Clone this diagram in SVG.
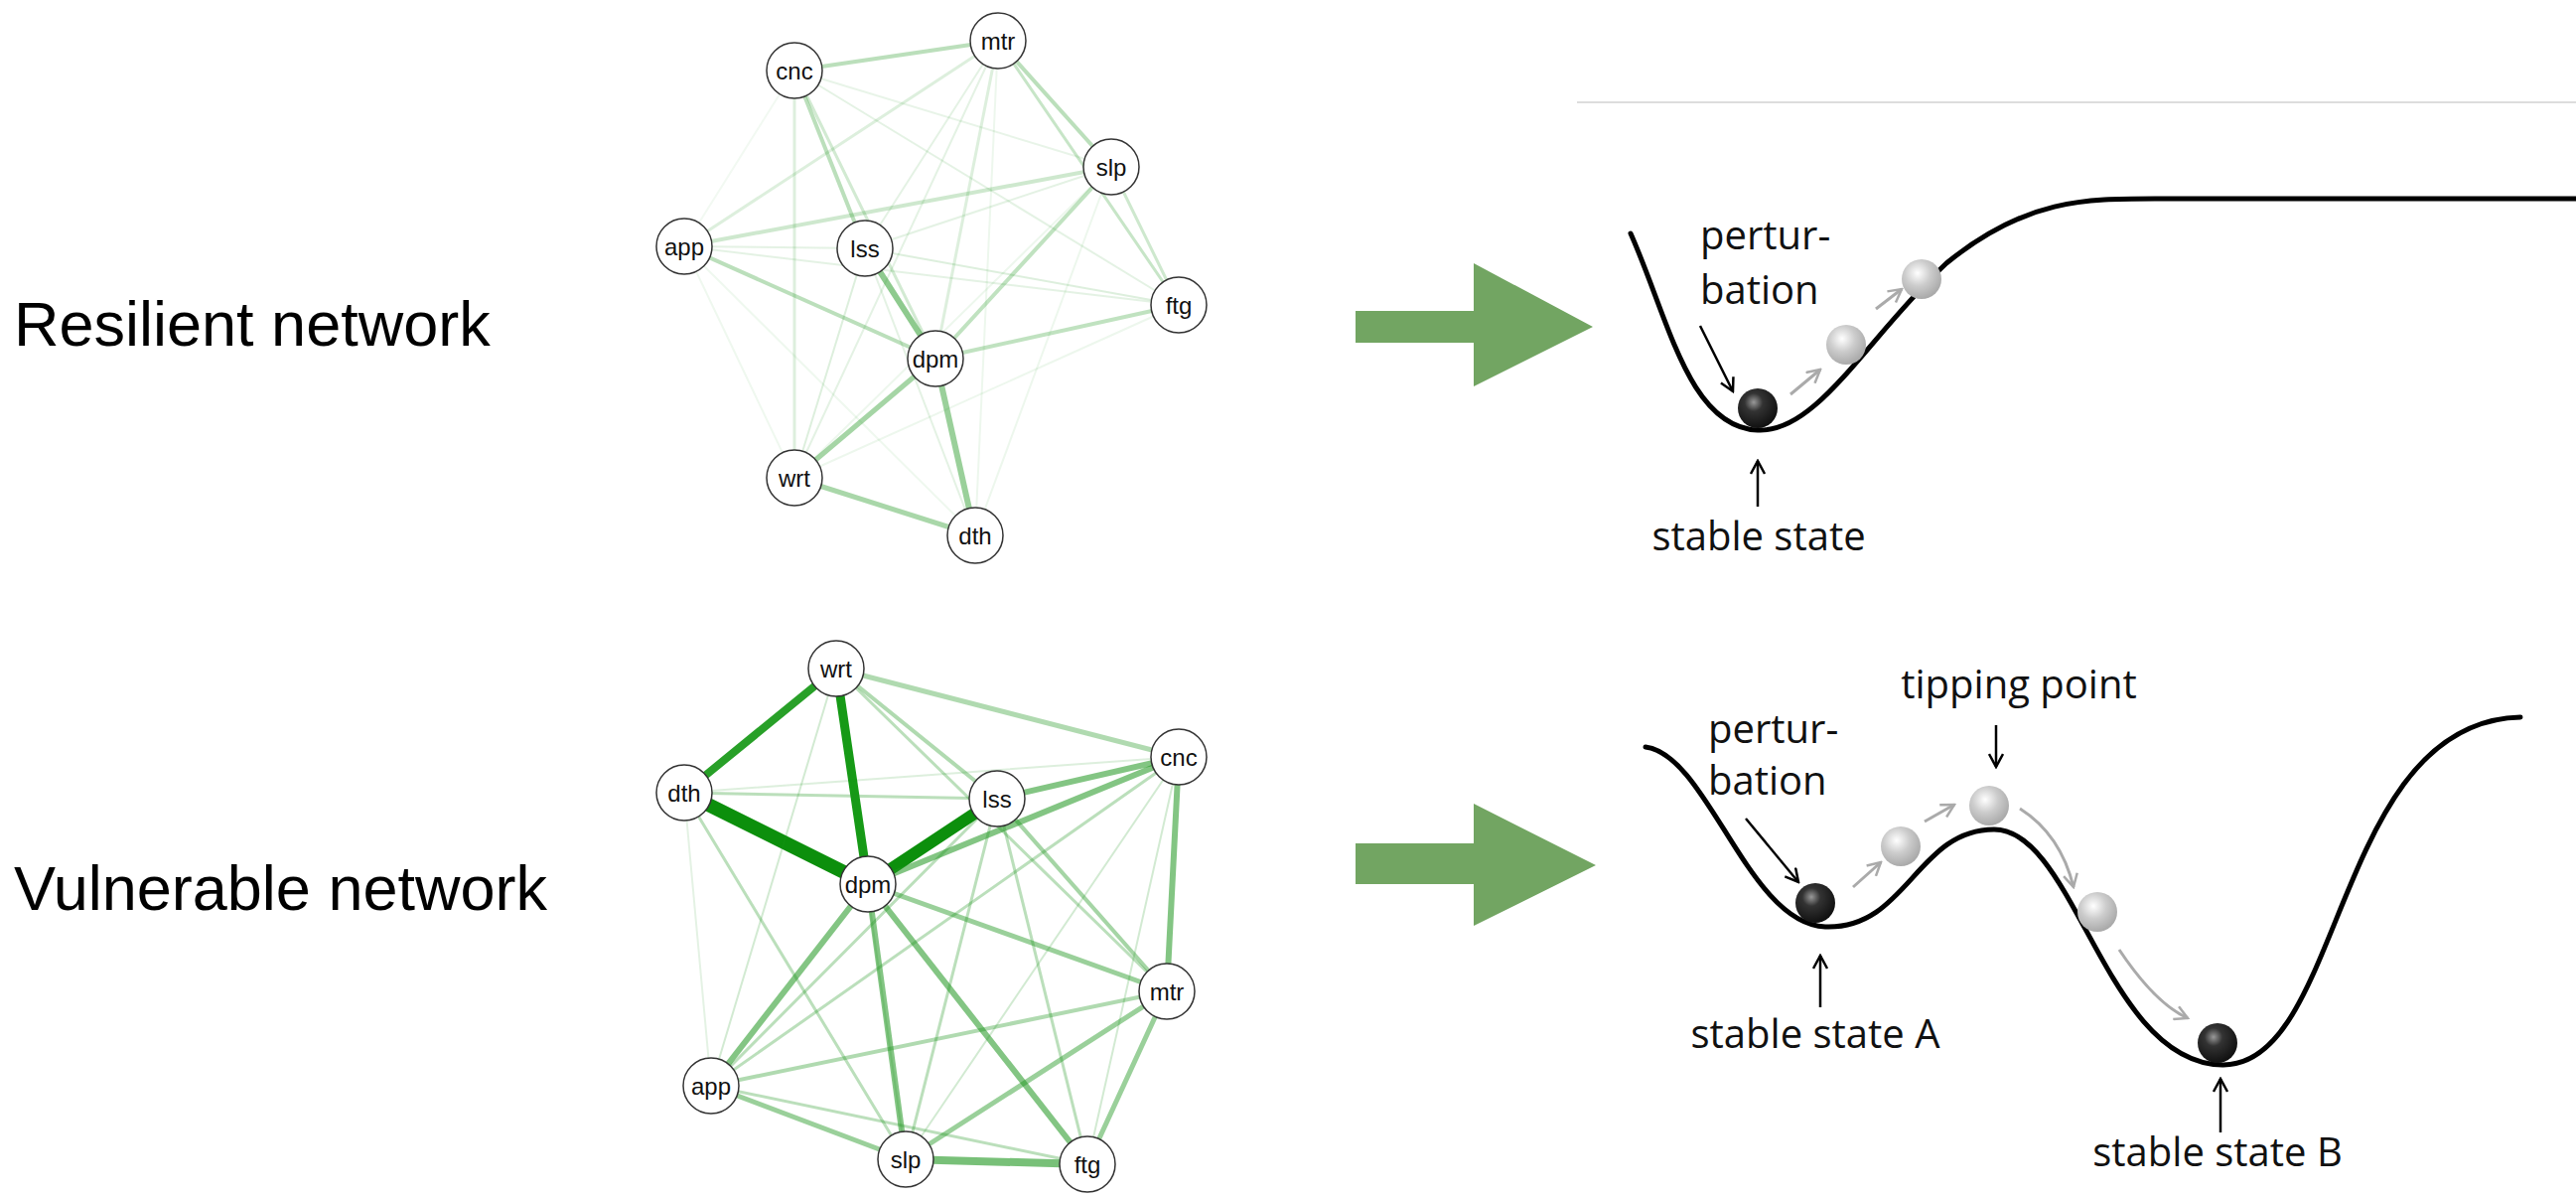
<svg xmlns="http://www.w3.org/2000/svg" width="2594" height="1206" viewBox="0 0 2594 1206">
<style>
.lbl{font-family:"Liberation Sans",Arial,sans-serif;font-size:63px;fill:#000}
.nt{font-family:"Liberation Sans",Arial,sans-serif;font-size:24px;fill:#111;text-anchor:middle;dominant-baseline:central}
.nd{fill:#fff;stroke:#333;stroke-width:1.5}
.e{stroke:#1e961e;fill:none;stroke-linecap:round}
.ann{font-family:"Open Sans","DejaVu Sans",sans-serif;font-size:40px;fill:#111}
.curve{fill:none;stroke:#000;stroke-width:5;stroke-linecap:round}
.ar{stroke:#000;stroke-width:2.5;fill:none}
.ga{stroke:#aaa;stroke-width:3;fill:none}
</style>
<defs>
<radialGradient id="dk" cx="0.4" cy="0.35" r="0.65"><stop offset="0" stop-color="#999"/><stop offset="0.35" stop-color="#333"/><stop offset="1" stop-color="#111"/></radialGradient>
<radialGradient id="lt" cx="0.4" cy="0.35" r="0.65"><stop offset="0" stop-color="#fff"/><stop offset="0.5" stop-color="#ccc"/><stop offset="1" stop-color="#aaa"/></radialGradient>
<marker id="mb" markerWidth="16" markerHeight="16" refX="14" refY="8" orient="auto" markerUnits="userSpaceOnUse"><path d="M1,1 L14,8 L1,15" fill="none" stroke="#000" stroke-width="2.5"/></marker>
<marker id="mg" markerWidth="16" markerHeight="16" refX="14" refY="8" orient="auto" markerUnits="userSpaceOnUse"><path d="M1,1 L14,8 L1,15" fill="none" stroke="#aaa" stroke-width="2.5"/></marker>
</defs>
<rect width="2594" height="1206" fill="#fff"/>
<line x1="1588" y1="103" x2="2594" y2="103" stroke="#ddd" stroke-width="2"/>
<text class="lbl" x="14" y="348">Resilient network</text>
<text class="lbl" x="14" y="916">Vulnerable network</text>

<g id="connectors">
<g class="e">
<line x1="800" y1="71" x2="1005" y2="41" stroke-opacity="0.3" stroke-width="4"/>
<line x1="800" y1="71" x2="871" y2="250" stroke-opacity="0.3" stroke-width="4"/>
<line x1="800" y1="71" x2="942" y2="361" stroke-opacity="0.2" stroke-width="3"/>
<line x1="800" y1="71" x2="800" y2="481" stroke-opacity="0.15" stroke-width="3"/>
<line x1="800" y1="71" x2="1187" y2="307" stroke-opacity="0.12" stroke-width="2"/>
<line x1="800" y1="71" x2="1119" y2="168" stroke-opacity="0.1" stroke-width="2"/>
<line x1="800" y1="71" x2="689" y2="248" stroke-opacity="0.06" stroke-width="2"/>
<line x1="1005" y1="41" x2="1119" y2="168" stroke-opacity="0.3" stroke-width="4"/>
<line x1="1005" y1="41" x2="1187" y2="307" stroke-opacity="0.25" stroke-width="3"/>
<line x1="1005" y1="41" x2="689" y2="248" stroke-opacity="0.15" stroke-width="3"/>
<line x1="1005" y1="41" x2="942" y2="361" stroke-opacity="0.15" stroke-width="3"/>
<line x1="1005" y1="41" x2="800" y2="481" stroke-opacity="0.12" stroke-width="2"/>
<line x1="1005" y1="41" x2="871" y2="250" stroke-opacity="0.12" stroke-width="2"/>
<line x1="1005" y1="41" x2="982" y2="539" stroke-opacity="0.08" stroke-width="2"/>
<line x1="1119" y1="168" x2="689" y2="248" stroke-opacity="0.22" stroke-width="4"/>
<line x1="1119" y1="168" x2="942" y2="361" stroke-opacity="0.28" stroke-width="4"/>
<line x1="1119" y1="168" x2="1187" y2="307" stroke-opacity="0.22" stroke-width="3"/>
<line x1="1119" y1="168" x2="871" y2="250" stroke-opacity="0.12" stroke-width="2"/>
<line x1="1119" y1="168" x2="800" y2="481" stroke-opacity="0.08" stroke-width="2"/>
<line x1="1119" y1="168" x2="982" y2="539" stroke-opacity="0.08" stroke-width="2"/>
<line x1="689" y1="248" x2="871" y2="250" stroke-opacity="0.12" stroke-width="2"/>
<line x1="689" y1="248" x2="1187" y2="307" stroke-opacity="0.12" stroke-width="2"/>
<line x1="689" y1="248" x2="942" y2="361" stroke-opacity="0.3" stroke-width="4"/>
<line x1="689" y1="248" x2="800" y2="481" stroke-opacity="0.07" stroke-width="2"/>
<line x1="689" y1="248" x2="982" y2="539" stroke-opacity="0.07" stroke-width="2"/>
<line x1="871" y1="250" x2="942" y2="361" stroke-opacity="0.5" stroke-width="6"/>
<line x1="871" y1="250" x2="1187" y2="307" stroke-opacity="0.15" stroke-width="2"/>
<line x1="871" y1="250" x2="800" y2="481" stroke-opacity="0.15" stroke-width="2"/>
<line x1="871" y1="250" x2="982" y2="539" stroke-opacity="0.12" stroke-width="2"/>
<line x1="942" y1="361" x2="1187" y2="307" stroke-opacity="0.28" stroke-width="4"/>
<line x1="942" y1="361" x2="800" y2="481" stroke-opacity="0.4" stroke-width="5"/>
<line x1="942" y1="361" x2="982" y2="539" stroke-opacity="0.45" stroke-width="6"/>
<line x1="800" y1="481" x2="982" y2="539" stroke-opacity="0.38" stroke-width="5"/>
<line x1="800" y1="481" x2="1187" y2="307" stroke-opacity="0.08" stroke-width="2"/>
</g>
<g class="e">
<line x1="689" y1="798" x2="874" y2="890" stroke="#0c8f0c" stroke-width="14"/>
<line x1="1004" y1="804" x2="874" y2="890" stroke="#0c8f0c" stroke-width="12"/>
<line x1="842" y1="673" x2="874" y2="890" stroke="#169a16" stroke-width="9"/>
<line x1="842" y1="673" x2="689" y2="798" stroke="#28a028" stroke-width="8"/>
<line x1="1187" y1="762" x2="874" y2="890" stroke-opacity="0.55" stroke-width="6"/>
<line x1="1187" y1="762" x2="1004" y2="804" stroke-opacity="0.55" stroke-width="6"/>
<line x1="1187" y1="762" x2="1175" y2="998" stroke-opacity="0.55" stroke-width="6"/>
<line x1="842" y1="673" x2="1187" y2="762" stroke-opacity="0.35" stroke-width="5"/>
<line x1="842" y1="673" x2="1004" y2="804" stroke-opacity="0.35" stroke-width="4"/>
<line x1="842" y1="673" x2="1175" y2="998" stroke-opacity="0.3" stroke-width="3"/>
<line x1="842" y1="673" x2="912" y2="1167" stroke-opacity="0.2" stroke-width="2"/>
<line x1="842" y1="673" x2="716" y2="1093" stroke-opacity="0.2" stroke-width="2"/>
<line x1="689" y1="798" x2="1004" y2="804" stroke-opacity="0.3" stroke-width="3"/>
<line x1="689" y1="798" x2="1187" y2="762" stroke-opacity="0.15" stroke-width="2"/>
<line x1="689" y1="798" x2="716" y2="1093" stroke-opacity="0.12" stroke-width="2"/>
<line x1="689" y1="798" x2="912" y2="1167" stroke-opacity="0.3" stroke-width="3"/>
<line x1="874" y1="890" x2="716" y2="1093" stroke-opacity="0.55" stroke-width="6"/>
<line x1="874" y1="890" x2="912" y2="1167" stroke-opacity="0.55" stroke-width="6"/>
<line x1="874" y1="890" x2="1095" y2="1172" stroke-opacity="0.55" stroke-width="6"/>
<line x1="874" y1="890" x2="1175" y2="998" stroke-opacity="0.45" stroke-width="5"/>
<line x1="1004" y1="804" x2="1175" y2="998" stroke-opacity="0.4" stroke-width="4"/>
<line x1="1004" y1="804" x2="1095" y2="1172" stroke-opacity="0.3" stroke-width="3"/>
<line x1="1004" y1="804" x2="912" y2="1167" stroke-opacity="0.3" stroke-width="3"/>
<line x1="1004" y1="804" x2="716" y2="1093" stroke-opacity="0.3" stroke-width="3"/>
<line x1="1187" y1="762" x2="716" y2="1093" stroke-opacity="0.3" stroke-width="3"/>
<line x1="1187" y1="762" x2="912" y2="1167" stroke-opacity="0.2" stroke-width="2"/>
<line x1="1187" y1="762" x2="1095" y2="1172" stroke-opacity="0.2" stroke-width="2"/>
<line x1="1175" y1="998" x2="716" y2="1093" stroke-opacity="0.35" stroke-width="4"/>
<line x1="1175" y1="998" x2="912" y2="1167" stroke-opacity="0.45" stroke-width="5"/>
<line x1="1175" y1="998" x2="1095" y2="1172" stroke-opacity="0.45" stroke-width="5"/>
<line x1="716" y1="1093" x2="912" y2="1167" stroke-opacity="0.45" stroke-width="5"/>
<line x1="716" y1="1093" x2="1095" y2="1172" stroke-opacity="0.3" stroke-width="3"/>
<line x1="912" y1="1167" x2="1095" y2="1172" stroke-opacity="0.6" stroke-width="8"/>
</g>
</g>

<g id="top-network">
<g id="t-cnc"><circle class="nd" cx="800" cy="71" r="28"/><text class="nt" x="800" y="71">cnc</text></g>
<g id="t-mtr"><circle class="nd" cx="1005" cy="41" r="28"/><text class="nt" x="1005" y="41">mtr</text></g>
<g id="t-slp"><circle class="nd" cx="1119" cy="168" r="28"/><text class="nt" x="1119" y="168">slp</text></g>
<g id="t-app"><circle class="nd" cx="689" cy="248" r="28"/><text class="nt" x="689" y="248">app</text></g>
<g id="t-lss"><circle class="nd" cx="871" cy="250" r="28"/><text class="nt" x="871" y="250">lss</text></g>
<g id="t-ftg"><circle class="nd" cx="1187" cy="307" r="28"/><text class="nt" x="1187" y="307">ftg</text></g>
<g id="t-dpm"><circle class="nd" cx="942" cy="361" r="28"/><text class="nt" x="942" y="361">dpm</text></g>
<g id="t-wrt"><circle class="nd" cx="800" cy="481" r="28"/><text class="nt" x="800" y="481">wrt</text></g>
<g id="t-dth"><circle class="nd" cx="982" cy="539" r="28"/><text class="nt" x="982" y="539">dth</text></g>
</g>
<g id="bottom-network">
<g id="b-wrt"><circle class="nd" cx="842" cy="673" r="28"/><text class="nt" x="842" y="673">wrt</text></g>
<g id="b-dth"><circle class="nd" cx="689" cy="798" r="28"/><text class="nt" x="689" y="798">dth</text></g>
<g id="b-lss"><circle class="nd" cx="1004" cy="804" r="28"/><text class="nt" x="1004" y="804">lss</text></g>
<g id="b-cnc"><circle class="nd" cx="1187" cy="762" r="28"/><text class="nt" x="1187" y="762">cnc</text></g>
<g id="b-dpm"><circle class="nd" cx="874" cy="890" r="28"/><text class="nt" x="874" y="890">dpm</text></g>
<g id="b-mtr"><circle class="nd" cx="1175" cy="998" r="28"/><text class="nt" x="1175" y="998">mtr</text></g>
<g id="b-app"><circle class="nd" cx="716" cy="1093" r="28"/><text class="nt" x="716" y="1093">app</text></g>
<g id="b-slp"><circle class="nd" cx="912" cy="1167" r="28"/><text class="nt" x="912" y="1167">slp</text></g>
<g id="b-ftg"><circle class="nd" cx="1095" cy="1172" r="28"/><text class="nt" x="1095" y="1172">ftg</text></g>
</g>

<g id="arrows-green" fill="#72a562">
<polygon points="1365,313 1484,313 1484,265 1604,329 1484,389 1484,345 1365,345"/>
<polygon points="1365,849 1484,849 1484,809 1607,871 1484,932 1484,890 1365,890"/>
</g>

<g id="landscape-top">
<path class="curve" d="M1642,235 C1680,320 1700,430 1770,433 C1830,436 1880,340 1960,265 C2040,200 2100,200 2170,200 L2594,200"/>
<line class="ga" x1="1803" y1="397" x2="1833" y2="372" marker-end="url(#mg)"/>
<line class="ga" x1="1889" y1="311" x2="1915" y2="291" marker-end="url(#mg)"/>
<circle cx="1859" cy="347" r="20" fill="url(#lt)"/>
<circle cx="1935" cy="281" r="20" fill="url(#lt)"/>
<circle cx="1770" cy="411" r="20" fill="url(#dk)"/>
<line class="ar" x1="1712" y1="328" x2="1745" y2="394" marker-end="url(#mb)"/>
<line class="ar" x1="1770" y1="510" x2="1770" y2="464" marker-end="url(#mb)"/>
<text class="ann" x="1712" y="251">pertur-</text>
<text class="ann" x="1712" y="306">bation</text>
<text class="ann" x="1771" y="554" text-anchor="middle">stable state</text>
</g>

<g id="landscape-bottom">
<path class="curve" d="M1657,752 C1720,760 1760,930 1838,933 C1920,936 1930,835 2008,835 C2090,835 2120,1070 2238,1072 C2360,1074 2350,726 2538,722"/>
<line class="ga" x1="1866" y1="893" x2="1894" y2="868" marker-end="url(#mg)"/>
<line class="ga" x1="1938" y1="827" x2="1968" y2="810" marker-end="url(#mg)"/>
<path class="ga" d="M2034,814 Q2075,840 2088,893" marker-end="url(#mg)"/>
<path class="ga" d="M2134,956 Q2170,1010 2203,1025" marker-end="url(#mg)"/>
<circle cx="1914" cy="852" r="20" fill="url(#lt)"/>
<circle cx="2003" cy="811" r="20" fill="url(#lt)"/>
<circle cx="2112" cy="918" r="20" fill="url(#lt)"/>
<circle cx="1828" cy="909" r="20" fill="url(#dk)"/>
<circle cx="2233" cy="1050" r="20" fill="url(#dk)"/>
<line class="ar" x1="1758" y1="824" x2="1811" y2="888" marker-end="url(#mb)"/>
<line class="ar" x1="2010" y1="730" x2="2010" y2="772" marker-end="url(#mb)"/>
<line class="ar" x1="1833" y1="1014" x2="1833" y2="962" marker-end="url(#mb)"/>
<line class="ar" x1="2236" y1="1140" x2="2236" y2="1086" marker-end="url(#mb)"/>
<text class="ann" x="1720" y="748">pertur-</text>
<text class="ann" x="1720" y="800">bation</text>
<text class="ann" x="2033" y="703" text-anchor="middle">tipping point</text>
<text class="ann" x="1828" y="1055" text-anchor="middle">stable state A</text>
<text class="ann" x="2233" y="1174" text-anchor="middle">stable state B</text>
</g>
</svg>
